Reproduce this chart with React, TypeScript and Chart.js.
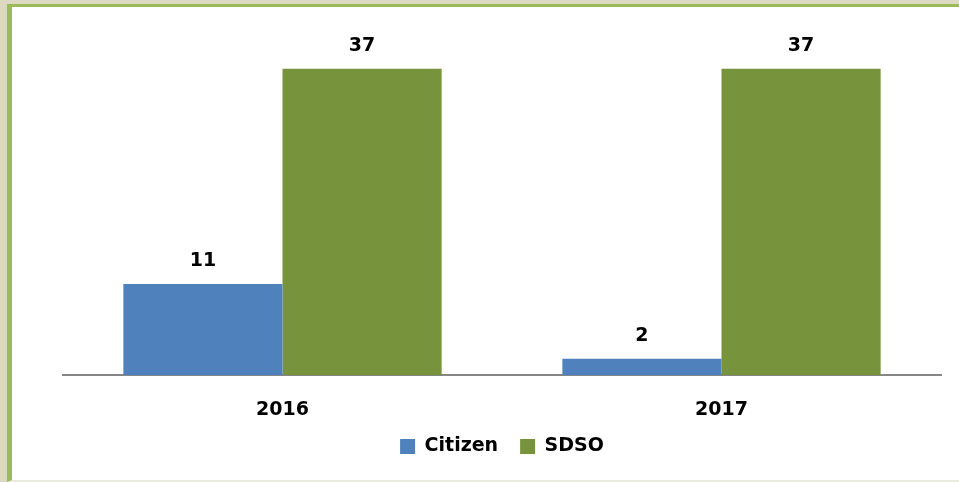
import React, { useEffect, useRef } from "react";
import { Chart, registerables } from "chart.js";

Chart.register(...registerables);

const categories = ["2016", "2017"];
const citizenValues = [11, 2];
const sdsoValues = [37, 37];
const seriesNames = ["Citizen", "SDSO"];

const FONT = "'DejaVu Sans', sans-serif";

const labelPlugin = {
  id: "barLabels",
  afterDatasetsDraw(chart: any) {
    const ctx = chart.ctx;
    ctx.save();
    ctx.font = `bold 19px ${FONT}`;
    ctx.fillStyle = "#000";
    ctx.textAlign = "center";
    ctx.textBaseline = "alphabetic";
    chart.data.datasets.forEach((ds: any, i: number) => {
      const meta = chart.getDatasetMeta(i);
      meta.data.forEach((bar: any, j: number) => {
        ctx.fillText(String(ds.data[j]), bar.x, bar.y - 18);
      });
    });
    ctx.restore();
  },
};

export default function App() {
  const ref = useRef<HTMLCanvasElement | null>(null);
  useEffect(() => {
    document.body.style.margin = "0";
    document.body.style.overflow = "hidden";
    const chart = new Chart(ref.current!, {
      type: "bar",
      data: {
        labels: categories,
        datasets: [
          { label: seriesNames[0], data: citizenValues, backgroundColor: "#4f81bd" },
          { label: seriesNames[1], data: sdsoValues, backgroundColor: "#77933c" },
        ],
      },
      options: {
        animation: false,
        responsive: false,
        devicePixelRatio: 1,
        layout: { padding: { top: 37, left: 51, right: 36, bottom: 14 } },
        datasets: { bar: { categoryPercentage: 0.725, barPercentage: 1 } } as any,
        scales: {
          x: {
            clip: false,
            grid: { display: false },
            border: { display: true, color: "#868686", width: 2 },
            ticks: { color: "#000", font: { family: FONT, size: 19, weight: "bold" }, padding: 15 },
            afterFit: (scale: any) => {
              scale.height -= 21;
            },
          } as any,
          y: { display: false, min: 0, max: 40 },
        },
        plugins: {
          legend: {
            position: "bottom",
            labels: {
              color: "#000",
              boxWidth: 15,
              boxHeight: 15,
              padding: 22,
              font: { family: FONT, size: 19, weight: "bold" },
            },
          },
          tooltip: { enabled: false },
        },
      },
      plugins: [labelPlugin],
    });
    return () => chart.destroy();
  }, []);
  return (
    <div style={{ width: 959, height: 482, background: "#ddd8c2", position: "relative", overflow: "hidden" }}>
      <div
        style={{
          position: "absolute",
          left: 7,
          top: 4,
          width: 990,
          height: 473,
          background: "#fff",
          borderLeft: "5px solid #9bbb59",
          borderTop: "3px solid #9bbb59",
          borderBottom: "2px solid #eaeadf",
        }}
      >
        <canvas ref={ref} width={965} height={473} style={{ display: "block" }} />
      </div>
    </div>
  );
}
